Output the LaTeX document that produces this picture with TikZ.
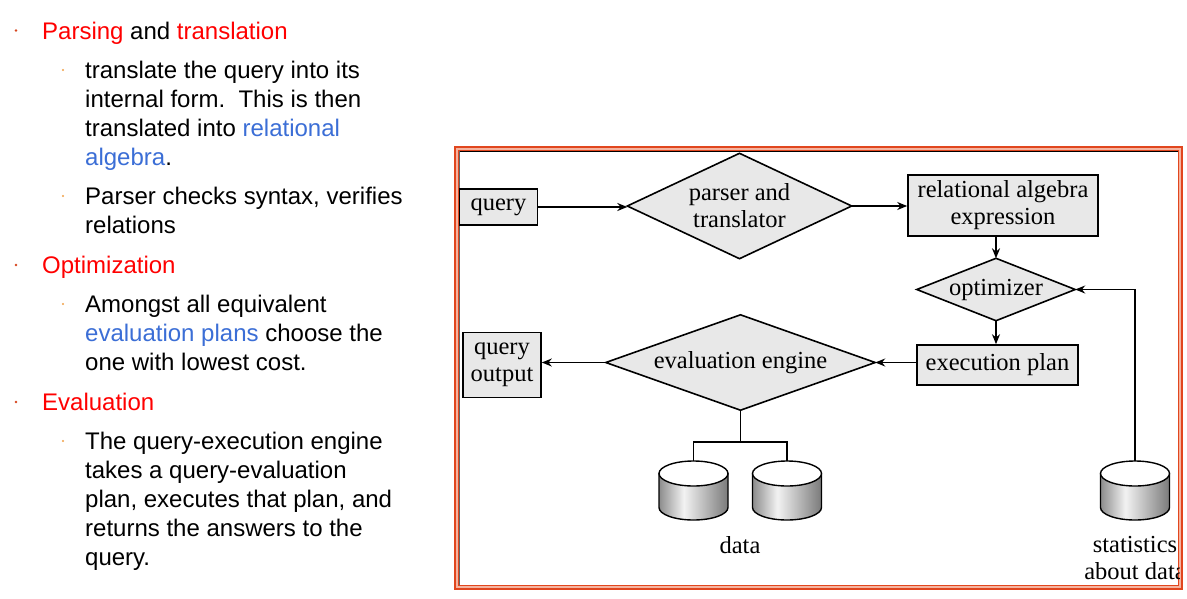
\documentclass[tikz,border=0pt]{standalone}
\usepackage{fontspec}
\setmainfont{Liberation Sans}
\newfontfamily\diagfont{Liberation Serif}
\usetikzlibrary{arrows.meta}
\pgfdeclarelayer{background}
\pgfsetlayers{background,main}
\definecolor{hred}{RGB}{255,0,0}
\definecolor{hblue}{RGB}{59,110,214}
\definecolor{bulred}{RGB}{215,70,30}
\definecolor{bulor}{RGB}{240,160,70}
\definecolor{frameor}{RGB}{225,70,30}
\definecolor{framepk}{RGB}{245,180,160}
\definecolor{boxgray}{RGB}{232,232,232}
\pgfdeclarehorizontalshading{cylgray}{100bp}{color(0bp)=(black!45); color(25bp)=(black!45); color(43bp)=(black!5); color(75bp)=(black!52); color(100bp)=(black!52)}
\begin{document}
\begin{tikzpicture}[x=1pt,y=-1pt,
  txt/.style={anchor=base west, inner sep=0pt, font=\fontsize{24}{29}\selectfont},
  mainbul/.style={fill=bulred, draw=none},
  subbul/.style={fill=bulor, draw=none},
  dfont/.style={font=\diagfont\fontsize{24.5}{27}\selectfont},
  box/.style={draw=black, line width=1.6pt, fill=boxgray, inner sep=0pt, dfont, align=center},
  diatext/.style={inner sep=0pt, dfont, align=center},
  diashape/.style={draw=black, line width=1.6pt, fill=boxgray, line join=miter},
  ln/.style={line width=1.6pt},
  arr/.style={line width=1.6pt, -{Stealth[length=10pt,width=8pt]}},
  lbl/.style={inner sep=0pt, dfont, align=center},
  dbcyl/.pic={
    \path[shading=cylgray, draw=black, line width=1.4pt] (-34.5,12.5) -- (-34.5,46.5)
      arc[start angle=180, end angle=0, x radius=34.5, y radius=12.5] -- (34.5,12.5) -- cycle;
    \draw[line width=1.4pt, fill=white] (0,12.5) ellipse[x radius=34.5, y radius=12.5];
  }]
\useasboundingbox (0,0) rectangle (1187,598);

% ---------- bullet text ----------
\fill[mainbul] (16,30.5) circle (1.3);
\node[txt] (t1) at (42,39) {\textcolor{hred}{Parsing} and \textcolor{hred}{translation}};
\fill[subbul] (63,70) circle (1.1);
\node[txt] (t2) at (85,78) {translate the query into its};
\node[txt] (t3) at (85,107) {internal form.\ \ This is then};
\node[txt] (t4) at (85,136) {translated into \textcolor{hblue}{relational}};
\node[txt] (t5) at (85,165) {\textcolor{hblue}{algebra}.};
\fill[subbul] (63,196) circle (1.1);
\node[txt] (t6) at (85,204) {Parser checks syntax, verifies};
\node[txt] (t7) at (85,233) {relations};
\fill[mainbul] (16,265) circle (1.3);
\node[txt] (t8) at (42,273) {\textcolor{hred}{Optimization}};
\fill[subbul] (63,304) circle (1.1);
\node[txt] (t9) at (85,312) {Amongst all equivalent};
\node[txt] (t10) at (85,341) {\textcolor{hblue}{evaluation plans} choose the};
\node[txt] (t11) at (85,370) {one with lowest cost.};
\fill[mainbul] (16,402) circle (1.3);
\node[txt] (t12) at (42,410) {\textcolor{hred}{Evaluation}};
\fill[subbul] (63,441) circle (1.1);
\node[txt] (t13) at (85,449) {The query-execution engine};
\node[txt] (t14) at (85,478) {takes a query-evaluation};
\node[txt] (t15) at (85,507) {plan, executes that plan, and};
\node[txt] (t16) at (85,536) {returns the answers to the};
\node[txt] (t17) at (85,565) {query.};

% ---------- frame ----------
\draw[frameor, line width=2pt] (455,146.5) rectangle (1182,589);
\draw[framepk, line width=2pt] (457,148.5) rectangle (1180,587);
\draw[frameor, line width=1pt] (458.5,150) rectangle (1178.5,585.5);
\draw[black, line width=1.3pt] (459.5,151.3) -- (1178,151.3);
\draw[black!60, line width=1pt] (459.5,151.3) -- (459.5,585);

% ---------- diagram ----------
\node[box, minimum width=78pt, minimum height=36pt] (q) at (498.5,207) {query};
\node[diatext, minimum width=224pt, minimum height=105pt] (pt) at (739.5,206) {parser and\\translator};
\node[box, minimum width=190pt, minimum height=61pt] (ra) at (1003,205.5) {relational algebra\\expression};
\node[diatext, minimum width=158pt, minimum height=62pt] (opt) at (996,289.5) {optimizer};
\node[box, minimum width=161pt, minimum height=40pt] (ep) at (997.5,365) {execution plan};
\node[diatext, minimum width=269pt, minimum height=95pt] (ee) at (740.5,362.5) {evaluation engine};
\node[box, minimum width=78pt, minimum height=65pt] (qo) at (502,365) {query\\output};

\begin{pgfonlayer}{background}
  \fill[white] (0,0) rectangle (1187,598);
  \path[diashape] (pt.west) -- (pt.north) -- (pt.east) -- (pt.south) -- cycle;
  \path[diashape] (opt.west) -- (opt.north) -- (opt.east) -- (opt.south) -- cycle;
  \path[diashape] (ee.west) -- (ee.north) -- (ee.east) -- (ee.south) -- cycle;
\end{pgfonlayer}

\draw[arr] (q.east) -- (q.east -| pt.west);
\draw[arr] (pt.east) -- (pt.east -| ra.west);
\draw[arr] (ra.south -| opt.north) -- (opt.north);
\draw[arr] (opt.south) -- (opt.south |- ep.north);
\draw[arr] (ee.east -| ep.west) -- (ee.east);
\draw[arr] (ee.west) -- (ee.west -| qo.east);

% databases
\coordinate (d1) at (693.5,461);
\coordinate (d2) at (787,461);
\coordinate (st) at (1135,461);
\draw[ln] (ee.south) -- ++(0,32) coordinate (jn);
\draw[ln] (d1) |- (jn) -| (d2);
\draw[arr] (st) |- (opt.east);
\pic at (693.5,461) {dbcyl};
\pic at (787,461) {dbcyl};
\pic at (1135,461) {dbcyl};

\node[lbl] (dl) at (740,545) {data};
\begin{scope}
  \clip (0,0) rectangle (1179,598);
  \node[lbl] (sl) at (1135,558) {statistics\\about data};
\end{scope}
\end{tikzpicture}
\end{document}
